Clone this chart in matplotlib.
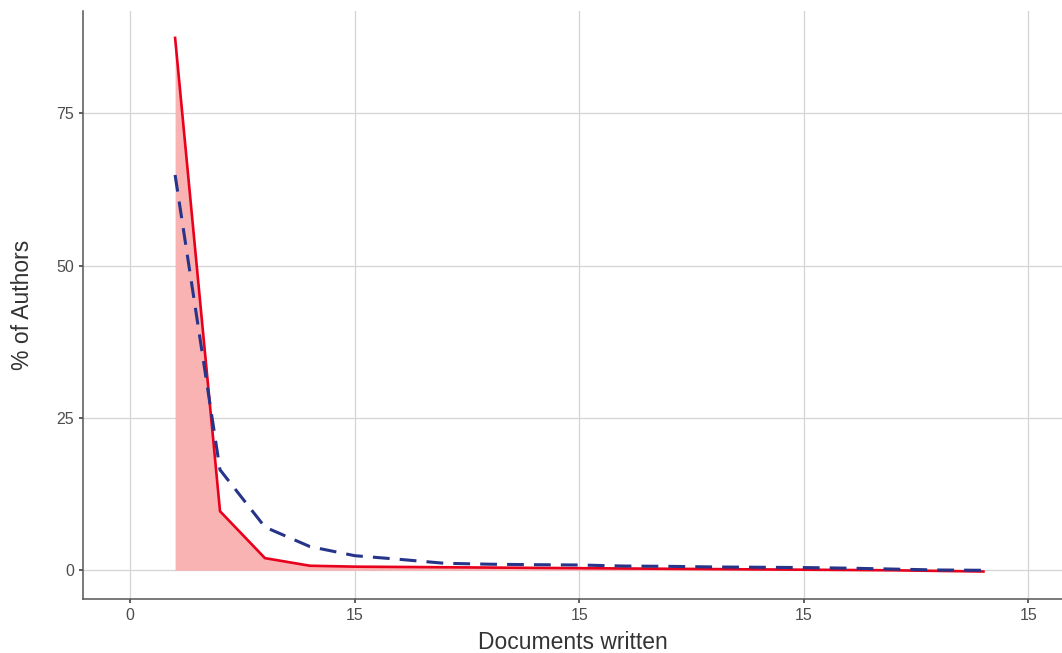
import numpy as np
import matplotlib
matplotlib.use('Agg')
import matplotlib.pyplot as plt

plt.rcParams['font.family'] = ['Liberation Sans', 'DejaVu Sans']

# Dati
docs = [1, 2, 3, 4, 5, 6, 7, 8, 9, 10, 11, 12, 13, 14, 15, 16, 17, 18, 19]
observed = [87.4, 9.7, 2.0, 0.75, 0.6, 0.55, 0.5, 0.45, 0.4, 0.35,
            0.3, 0.25, 0.2, 0.15, 0.1, 0.05, 0.0, -0.1, -0.2]
theoretical = [64.9, 16.5, 7.1, 3.9, 2.4, 1.8, 1.15, 1.0, 0.92, 0.87,
               0.7, 0.65, 0.55, 0.5, 0.45, 0.35, 0.2, 0.05, 0.0]
xticks = [0, 5, 10, 15, 20]
xtick_labels = ['0', '15', '15', '15', '15']
yticks = [0, 25, 50, 75]

fig = plt.figure(figsize=(10.62, 6.53), dpi=100)
ax = fig.add_axes([0.0782, 0.0827, 0.9218, 0.9003])

ax.fill_between(docs, observed, 0, color='#f9b3b3', linewidth=0)
ax.plot(docs, observed, color='#e8001c', linewidth=1.9)
ax.plot(docs, theoretical, color='#26348a', linewidth=2.2,
        linestyle=(0, (5.5, 3.3)))

ax.set_xlim(-1.05, 20.75)
ax.set_ylim(-4.71, 91.8)
ax.set_xticks(xticks)
ax.set_xticklabels(xtick_labels)
ax.set_yticks(yticks)

ax.grid(True, color='#d4d4d4', linewidth=0.9)
ax.set_axisbelow(True)
for s in ['top', 'right']:
    ax.spines[s].set_visible(False)
for s in ['left', 'bottom']:
    ax.spines[s].set_color('#555555')
    ax.spines[s].set_linewidth(1.1)
ax.tick_params(colors='#333333', labelcolor='#4d4d4d', labelsize=11.5,
               length=3, width=1.1)

ax.set_xlabel('Documents written', fontsize=16.5, color='#333333', labelpad=6)
ax.set_ylabel('% of Authors', fontsize=16.5, color='#333333', labelpad=16)

fig.savefig('out.png', dpi=100)
